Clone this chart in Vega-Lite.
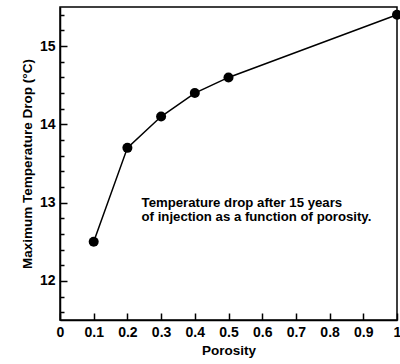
{
  "$schema": "https://vega.github.io/schema/vega-lite/v6.json",
  "width": 337,
  "height": 313,
  "autosize": {"type": "none"},
  "padding": {"left": 60, "top": 7, "right": 3, "bottom": 44},
  "background": "white",
  "config": {
    "view": {"stroke": "#000", "strokeWidth": 1.5},
    "font": "Liberation Sans"
  },
  "datasets": {
    "pts": [
      {"porosity": 0.1, "drop": 12.5},
      {"porosity": 0.2, "drop": 13.7},
      {"porosity": 0.3, "drop": 14.1},
      {"porosity": 0.4, "drop": 14.4},
      {"porosity": 0.5, "drop": 14.6},
      {"porosity": 1.0, "drop": 15.4}
    ],
    "note": [
      {"px": 0.242, "py": 13.0, "label": "Temperature drop after 15 years\nof injection as a function of porosity."}
    ]
  },
  "encoding": {
    "x": {
      "field": "porosity", "type": "quantitative",
      "scale": {"domain": [0, 1], "nice": false, "zero": false},
      "axis": {
        "values": [0, 0.1, 0.2, 0.3, 0.4, 0.5, 0.6, 0.7, 0.8, 0.9, 1],
        "format": ".1~f",
        "grid": false,
        "labelFontSize": 14, "labelFontWeight": "bold", "labelColor": "#000",
        "labelFlush": false, "labelOverlap": false, "labelPadding": 12,
        "tickSize": -7, "tickColor": "#000", "tickWidth": 1.5,
        "domainColor": "#000", "domainWidth": 1.5,
        "title": "Porosity", "titleFontSize": 13.5, "titleFontWeight": "bold", "titleColor": "#000", "titlePadding": 4
      }
    },
    "y": {
      "field": "drop", "type": "quantitative",
      "scale": {"domain": [11.5, 15.5], "nice": false, "zero": false},
      "axis": {
        "values": [11.6, 11.8, 12, 12.2, 12.4, 12.6, 12.8, 13, 13.2, 13.4, 13.6, 13.8, 14, 14.2, 14.4, 14.6, 14.8, 15, 15.2, 15.4],
        "format": ".0f",
        "labelExpr": "abs(datum.value - round(datum.value)) < 0.001 ? datum.label : ''",
        "grid": false,
        "labelFontSize": 14, "labelFontWeight": "bold", "labelColor": "#000",
        "labelFlush": false, "labelOverlap": false, "labelPadding": 12,
        "tickSize": {"condition": {"test": "abs(datum.value - round(datum.value)) < 0.001", "value": -7}, "value": -4},
        "tickColor": "#000", "tickWidth": 1.5,
        "domainColor": "#000", "domainWidth": 1.5,
        "title": "Maximum Temperature Drop (°C)", "titleFontSize": 13.5, "titleFontWeight": "bold", "titleColor": "#000", "titlePadding": 5
      }
    }
  },
  "layer": [
    {
      "data": {"name": "pts"},
      "mark": {"type": "line", "color": "#000", "strokeWidth": 1.5}
    },
    {
      "data": {"name": "pts"},
      "mark": {"type": "circle", "color": "#000", "size": 100, "opacity": 1}
    },
    {
      "data": {"name": "note"},
      "mark": {"type": "text", "align": "left", "baseline": "middle", "fontWeight": "bold", "fontSize": 13.2, "lineHeight": 14.5, "lineBreak": "\n", "color": "#000"},
      "encoding": {
        "x": {"field": "px", "type": "quantitative"},
        "y": {"field": "py", "type": "quantitative"},
        "text": {"field": "label", "type": "nominal"}
      }
    }
  ]
}
